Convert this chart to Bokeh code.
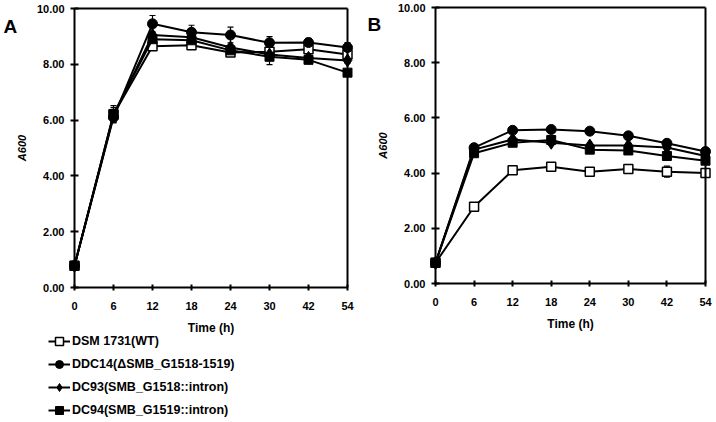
from bokeh.plotting import figure
from bokeh.layouts import row
from bokeh.models import (ColumnDataSource, Range1d, FixedTicker, NumeralTickFormatter,
                          Legend, LegendItem, Label, Whisker, TeeHead, LinearAxis)
from bokeh.embed import file_html
from bokeh.resources import INLINE

times = ["0", "6", "12", "18", "24", "30", "42", "54"]
names = ["DSM 1731(WT)", "DDC14(\u0394SMB_G1518-1519)",
         "DC93(SMB_G1518::intron)", "DC94(SMB_G1519::intron)"]

# Panel A
a_wt = [0.78, 6.20, 8.65, 8.68, 8.42, 8.45, 8.54, 8.35]
a_ddc14 = [0.78, 6.10, 9.45, 9.15, 9.05, 8.77, 8.78, 8.60]
a_dc93 = [0.78, 6.15, 9.05, 8.97, 8.60, 8.35, 8.23, 8.14]
a_dc94 = [0.78, 6.22, 8.90, 8.86, 8.50, 8.27, 8.16, 7.70]
a_wt_err = [0.05, 0.25, 0.10, 0.10, 0.08, 0.15, 0.08, 0.12]
a_ddc14_err = [0.05, 0.20, 0.30, 0.25, 0.28, 0.22, 0.15, 0.18]
a_dc93_err = [0.05, 0.20, 0.10, 0.10, 0.10, 0.12, 0.10, 0.10]
a_dc94_err = [0.05, 0.30, 0.10, 0.10, 0.10, 0.28, 0.10, 0.10]

# Panel B
b_wt = [0.75, 2.78, 4.10, 4.23, 4.05, 4.15, 4.05, 4.00]
b_ddc14 = [0.75, 4.92, 5.55, 5.58, 5.52, 5.35, 5.08, 4.78]
b_dc93 = [0.75, 4.85, 5.22, 5.10, 5.00, 5.00, 4.93, 4.62]
b_dc94 = [0.75, 4.72, 5.10, 5.20, 4.85, 4.82, 4.62, 4.45]
b_wt_err = [0.05, 0.08, 0.08, 0.08, 0.08, 0.08, 0.20, 0.08]
b_ddc14_err = [0.05, 0.08, 0.08, 0.08, 0.08, 0.08, 0.08, 0.08]
b_dc93_err = [0.05, 0.08, 0.08, 0.08, 0.08, 0.08, 0.08, 0.08]
b_dc94_err = [0.05, 0.08, 0.08, 0.08, 0.08, 0.08, 0.08, 0.08]

y_ticks = [0, 2, 4, 6, 8, 10]
Y_MIN, Y_MAX = 0, 10

FONT = "Liberation Sans"
markers = [
    dict(marker="square", size=9, fill_color="white", line_color="black", line_width=1.5),
    dict(marker="circle", size=10, fill_color="black", line_color="black", line_width=1),
    dict(marker="diamond", size=13, fill_color="black", line_color="black", line_width=1),
    dict(marker="square", size=9, fill_color="black", line_color="black", line_width=1),
]


def make_panel(letter, series, errs, width, height, box, letter_px, legend_loc):
    # box = (left, right, top, bottom) of the plot box in canvas pixels
    bl, br, bt, bb = box
    n = len(times) - 1
    xs = n / (br - bl)                # index units per pixel
    ys = (Y_MAX - Y_MIN) / (bb - bt)  # value units per pixel
    x0 = 0 - bl * xs
    x1 = n + (width - br) * xs
    y1 = Y_MAX + bt * ys
    y0 = Y_MIN - (height - bb) * ys

    p = figure(width=width, height=height, output_backend="svg", toolbar_location=None,
               x_range=Range1d(x0, x1), y_range=Range1d(y0, y1),
               min_border=0, min_border_left=0, min_border_right=0,
               min_border_top=0, min_border_bottom=0)
    p.xgrid.visible = False
    p.ygrid.visible = False
    p.outline_line_color = None
    p.background_fill_color = "white"
    p.border_fill_color = "white"

    idx = list(range(len(times)))
    items = []
    for k in range(len(series)):
        vals = series[k]
        err = errs[k]
        src = ColumnDataSource(dict(x=idx, y=vals,
                                    upper=[v + e for v, e in zip(vals, err)],
                                    lower=[v - e for v, e in zip(vals, err)]))
        w = Whisker(source=src, base="x", upper="upper", lower="lower",
                    line_color="black", line_width=1.2,
                    upper_head=TeeHead(size=6, line_color="black", line_width=1.2),
                    lower_head=TeeHead(size=6, line_color="black", line_width=1.2),
                    level="underlay")
        p.add_layout(w)
    for k in range(len(series)):
        src = ColumnDataSource(dict(x=idx, y=series[k]))
        lr = p.line("x", "y", source=src, line_color="black", line_width=2)
        sr = p.scatter("x", "y", source=src, **markers[k])
        items.append(LegendItem(label=names[k], renderers=[lr, sr]))

    for ax in (p.xaxis[0], p.yaxis[0]):
        ax.axis_line_width = 2
        ax.axis_line_color = "black"
        ax.major_tick_line_width = 2
        ax.major_tick_line_color = "black"
        ax.minor_tick_line_color = None
        ax.major_label_text_font = FONT
        ax.major_label_text_font_style = "bold"
        ax.major_label_text_font_size = "11px"
        ax.major_label_text_color = "black"
        ax.axis_label_text_font = FONT
        ax.axis_label_text_color = "black"

    xa = p.xaxis[0]
    xa.fixed_location = Y_MIN
    xa.bounds = (0, n)
    xa.ticker = FixedTicker(ticks=idx)
    xa.major_label_overrides = {i: t for i, t in enumerate(times)}
    xa.major_tick_in = 3
    xa.major_tick_out = 3
    xa.major_label_standoff = 11
    xa.axis_label = "Time (h)"
    xa.axis_label_text_font_style = "bold"
    xa.axis_label_text_font_size = "12px"
    xa.axis_label_standoff = 8

    ya = p.yaxis[0]
    ya.fixed_location = 0
    ya.bounds = (Y_MIN, Y_MAX)
    ya.ticker = FixedTicker(ticks=y_ticks)
    ya.formatter = NumeralTickFormatter(format="0.00")
    ya.major_tick_in = 4
    ya.major_tick_out = 4
    ya.major_label_standoff = 6
    ya.axis_label = "A600"
    ya.axis_label_text_font_style = "bold italic"
    ya.axis_label_text_font_size = "11px"
    ya.axis_label_standoff = 6

    # top and right edges of the plot box
    top_ax = LinearAxis(fixed_location=Y_MAX, bounds=(0, n), ticker=FixedTicker(ticks=[]),
                        axis_line_width=2, axis_line_color="black",
                        major_tick_line_color=None, minor_tick_line_color=None,
                        major_label_text_alpha=0)
    right_ax = LinearAxis(fixed_location=n, bounds=(Y_MIN, Y_MAX), ticker=FixedTicker(ticks=[]),
                          axis_line_width=2, axis_line_color="black",
                          major_tick_line_color=None, minor_tick_line_color=None,
                          major_label_text_alpha=0)
    p.add_layout(top_ax, "above")
    p.add_layout(right_ax, "right")

    p.add_layout(Label(x=x0 + letter_px[0] * xs, y=y1 - letter_px[1] * ys, text=letter,
                       text_font=FONT, text_font_style="bold", text_font_size="19px",
                       text_color="black", text_align="left", text_baseline="alphabetic"))

    if legend_loc is not None:
        leg = Legend(items=items, location=legend_loc, orientation="vertical",
                     background_fill_alpha=0, border_line_alpha=0,
                     padding=0, margin=0, spacing=3,
                     glyph_width=22, glyph_height=20, label_height=20,
                     label_standoff=2, label_text_font=FONT,
                     label_text_font_style="bold", label_text_font_size="12.5px",
                     label_text_color="black")
        p.add_layout(leg)
    return p


pA = make_panel("A", [a_wt, a_ddc14, a_dc93, a_dc94],
                [a_wt_err, a_ddc14_err, a_dc93_err, a_dc94_err],
                360, 422, (74, 347, 8, 287), (3, 25.5), (48, 2))
pB = make_panel("B", [b_wt, b_ddc14, b_dc93, b_dc94],
                [b_wt_err, b_ddc14_err, b_dc93_err, b_dc94_err],
                356, 340, (75, 345, 7, 283), (7, 23.5), None)

layout = row(pA, pB)

open("out.html", "w").write(file_html(layout, INLINE))
